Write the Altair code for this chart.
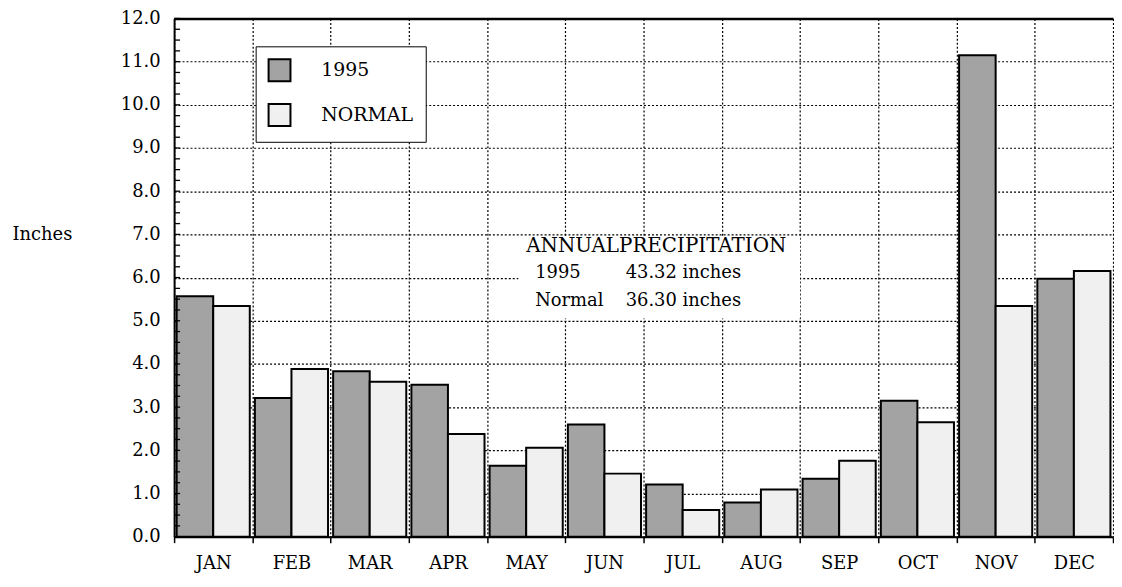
import altair as alt
import pandas as pd

months = ["JAN", "FEB", "MAR", "APR", "MAY", "JUN", "JUL", "AUG", "SEP", "OCT", "NOV", "DEC"]
series = ["1995", "NORMAL"]
vals_1995 = [5.57, 3.21, 3.83, 3.52, 1.64, 2.60, 1.21, 0.79, 1.34, 3.15, 11.15, 5.97]
vals_normal = [5.34, 3.88, 3.59, 2.38, 2.06, 1.46, 0.62, 1.09, 1.76, 2.65, 5.34, 6.15]
series_colors = ["#a3a3a3", "#f0f0f0"]
y_ticks = [0, 1, 2, 3, 4, 5, 6, 7, 8, 9, 10, 11, 12]
minor_ticks = [i / 4 for i in range(49)]

head_text = ["ANNUALPRECIPITATION"]
head_y = [6.74]
row_labels = ["1995", "Normal"]
row_values = ["43.32 inches", "36.30 inches"]
row_y = [6.10, 5.46]
box_from, box_to = "MAY", "SEP"
box_y = (5.05, 6.95)

FONT = "DejaVu Serif"

rows = []
for m, a, b in zip(months, vals_1995, vals_normal):
    rows.append({"month": m, "series": series[0], "value": a})
    rows.append({"month": m, "series": series[1], "value": b})
df = pd.DataFrame(rows)

xscale = alt.Scale(domain=months, paddingInner=0, paddingOuter=0)
yscale = alt.Scale(domain=[0, 12], nice=False, zero=True)

dotted = dict(gridColor="black", gridDash=[2, 2], gridWidth=1.2, gridOpacity=1)

x_axis = alt.Axis(
    orient="bottom", title=None, labelAngle=0, labelFont=FONT, labelFontSize=18,
    labelColor="black", labelPadding=12, tickSize=6, tickColor="black", tickWidth=1.5,
    domainColor="black", domainWidth=2, grid=True, tickBand="extent", **dotted,
)
y_axis = alt.Axis(
    orient="left", values=y_ticks, format=".1f", labelFont=FONT, labelFontSize=18,
    labelColor="black", labelPadding=14, ticks=False, domainColor="black", domainWidth=2,
    grid=True, title="Inches", titleAngle=0, titleAlign="left", titleBaseline="middle",
    titleX=-163, titleY=217, titleFont=FONT, titleFontSize=18, titleFontWeight="normal",
    titleColor="black", **dotted,
)
top_axis = alt.Axis(
    orient="top", title=None, labels=False, ticks=False, grid=False,
    domainColor="black", domainWidth=2.5,
)

bars = alt.Chart(df).mark_bar(stroke="black", strokeWidth=2, opacity=1).encode(
    x=alt.X("month:N", scale=xscale, axis=x_axis),
    xOffset=alt.XOffset("series:N", sort=series,
                        scale=alt.Scale(paddingInner=0, paddingOuter=0.07)),
    y=alt.Y("value:Q", scale=yscale, axis=y_axis),
    color=alt.Color(
        "series:N",
        scale=alt.Scale(domain=series, range=series_colors),
        legend=alt.Legend(
            title=None, orient="none", legendX=82, legendY=28, direction="vertical",
            fillColor="white", strokeColor="black", padding=12, symbolType="square",
            symbolSize=484, symbolStrokeColor="black", symbolStrokeWidth=2,
            symbolOpacity=1, labelFont=FONT, labelFontSize=19, labelColor="black",
            labelOffset=30, rowPadding=15,
        ),
    ),
)

box_df = pd.DataFrame({"x0": [box_from], "x1": [box_to], "y0": [box_y[0]], "y1": [box_y[1]]})
box = alt.Chart(box_df).mark_rect(fill="white", stroke=None).encode(
    x=alt.X("x0:N", scale=xscale, axis=top_axis, bandPosition=0.4),
    x2=alt.X2("x1:N", bandPosition=0),
    y=alt.Y("y0:Q", scale=yscale, axis=None),
    y2="y1:Q",
)

head_df = pd.DataFrame({"t": head_text, "y": head_y, "x": ["MAY"]})
row_df = pd.DataFrame({"lab": row_labels, "val": row_values, "y": row_y, "x": ["MAY", "MAY"]})

txt = dict(font=FONT, color="black", align="left", baseline="middle")

head = alt.Chart(head_df).mark_text(dx=0, fontSize=20, **txt).encode(
    x=alt.X("x:N", scale=xscale, axis=top_axis),
    y=alt.Y("y:Q", scale=yscale, axis=None),
    text="t:N",
)
labs = alt.Chart(row_df).mark_text(dx=9, fontSize=18, **txt).encode(
    x=alt.X("x:N", scale=xscale, axis=top_axis),
    y=alt.Y("y:Q", scale=yscale, axis=None),
    text="lab:N",
)
vals = alt.Chart(row_df).mark_text(dx=100, fontSize=18, **txt).encode(
    x=alt.X("x:N", scale=xscale, axis=top_axis),
    y=alt.Y("y:Q", scale=yscale, axis=None),
    text="val:N",
)

# inward minor ticks along the left edge of the plot
tick_df = pd.DataFrame({"v": minor_ticks})
minor = alt.Chart(tick_df).mark_rule(color="black", strokeWidth=1.3).encode(
    y=alt.Y("v:Q", scale=yscale, axis=None),
    x=alt.value(0),
    x2=alt.value(6),
)

annot = alt.layer(box, head, labs, vals, minor)

chart = alt.layer(bars, annot).resolve_axis(x="independent", y="independent").properties(
    width=1112,
    height=566,
    padding={"left": 4, "top": 0, "right": 0, "bottom": 0},
    autosize=alt.AutoSizeParams(type="fit", contains="padding"),
    background="white",
).configure_view(stroke=None)

chart.save("out.html", embed_options={"renderer": "svg", "actions": False})
